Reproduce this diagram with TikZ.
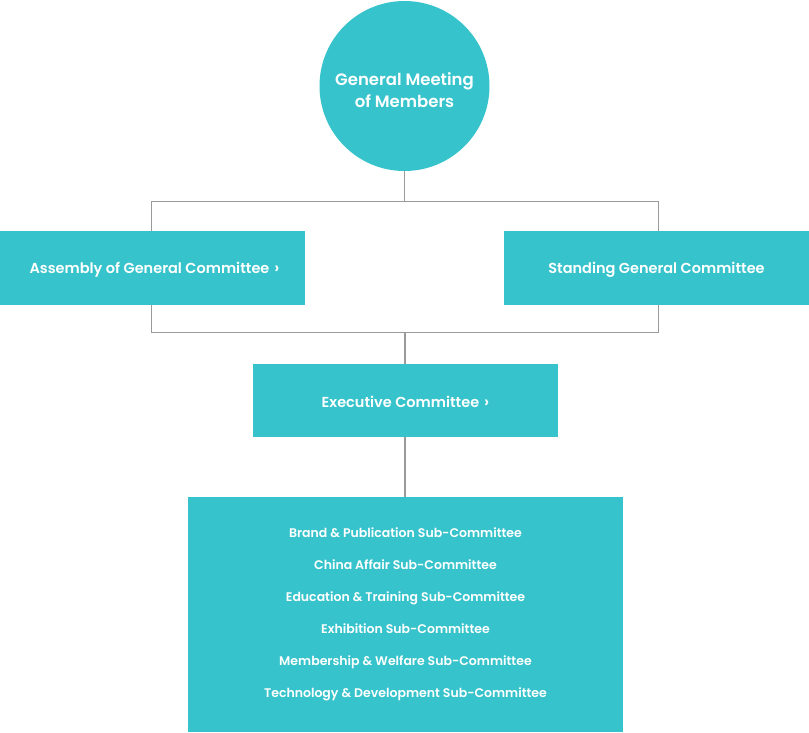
\documentclass[tikz,border=0pt]{standalone}
\usepackage{fontspec}
\setmainfont{Poppins}[UprightFont={* SemiBold}]
\usetikzlibrary{backgrounds}
\definecolor{teal}{HTML}{36C3CB}
\definecolor{linegrey}{HTML}{9A9A9A}
\newcommand{\chev}{\hspace{5pt}{\fontsize{16}{16}\selectfont\raisebox{-0.8pt}{›}}}
\begin{document}
\begin{tikzpicture}[x=1pt,y=-1pt,
  box/.style={fill=teal,draw=none,text=white,inner sep=0pt,minimum width=305pt,minimum height=74pt,text height=10pt,text depth=0pt,font=\fontsize{14.5}{17}\selectfont},
  conn/.style={draw=linegrey,line width=1.2pt}]
\useasboundingbox (0,0) rectangle (809,732);
\node[circle,fill=teal,minimum size=170pt,inner sep=0pt,
  label={[text=white,align=center,font=\fontsize{16.5}{21.5}\selectfont,yshift=-4pt]center:General Meeting\\of Members}] (gm) at (404.5,86) {};
\node[box] (asm) at (152.5,268) {\hspace{4pt}Assembly of General Committee\chev};
\node[box] (std) at (656.5,268) {Standing General Committee};
\node[box,minimum height=73pt,text height=13pt] (exe) at (405.5,400.5) {Executive Committee\chev};
\node[fill=teal,text=white,inner sep=0pt,minimum width=435pt,minimum height=235pt,align=center,font=\fontsize{12.5}{32}\selectfont] (sub) at (405.5,614.5) {Brand \& Publication Sub-Committee\\China Affair Sub-Committee\\Education \& Training Sub-Committee\\Exhibition Sub-Committee\\Membership \& Welfare Sub-Committee\\Technology \& Development Sub-Committee};
\coordinate (tl) at (151.5,201.5);
\coordinate (br) at (658.5,332.5);
\coordinate (tm) at (gm.south |- tl);
\coordinate (bm) at (405,332.5);
\begin{scope}[on background layer]
\draw[conn] (tl) rectangle (br);
\draw[conn] (gm.south) -- (tm);
\draw[conn] (bm) -- (bm |- exe.north);
\draw[conn] (bm |- exe.south) -- (bm |- sub.north);
\end{scope}
\end{tikzpicture}
\end{document}
